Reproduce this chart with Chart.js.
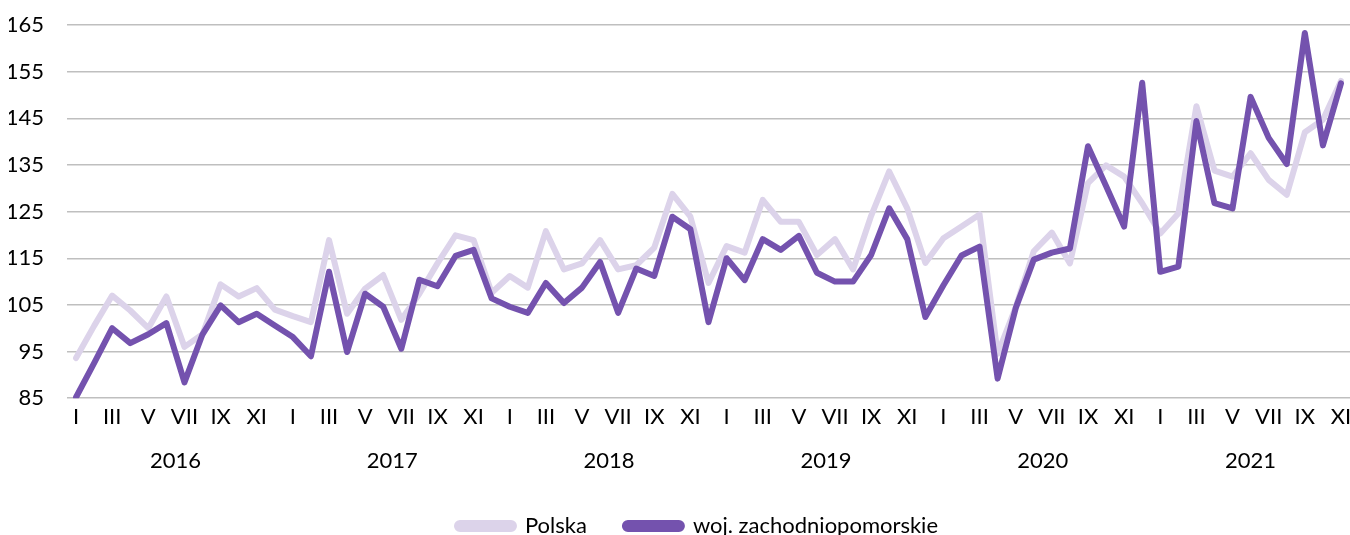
<!DOCTYPE html>
<html lang="pl">
<head>
<meta charset="utf-8">
<script src="https://cdn.jsdelivr.net/npm/chart.js@4/dist/chart.umd.min.js"></script>
<style>
  html, body { margin: 0; padding: 0; background: #fff; overflow: hidden; }
  #wrap { width: 1350px; height: 547px; position: relative; }
</style>
</head>
<body>
<div id="wrap"><canvas id="chart"></canvas></div>
<script>
// Month labels (roman numerals) and years
const months = ['I', 'II', 'III', 'IV', 'V', 'VI', 'VII', 'VIII', 'IX', 'X', 'XI', 'XII'];
const years = ['2016', '2017', '2018', '2019', '2020', '2021'];
// The series run from I 2016 to XI 2021
const monthCount = 71;

const yTicks = [85, 95, 105, 115, 125, 135, 145, 155, 165];

const polska = [
  93.6, 100.5, 107, 103.8, 100, 106.8, 96, 98.7, 109.4, 106.8, 108.6, 104,
  102.6, 101.3, 118.9, 103.1, 108.5, 111.4, 101.8, 107.4, 113.9, 119.9, 118.9, 107.6,
  111.2, 108.7, 120.8, 112.6, 113.9, 118.9, 112.6, 113.5, 117.3, 128.8, 123.9, 109.7,
  117.6, 116.2, 127.5, 122.8, 122.8, 115.7, 119.1, 112.6, 124.1, 133.6, 125.7, 114,
  119.3, 121.8, 124.4, 94.5, 104.5, 116.5, 120.5, 113.9, 131.1, 134.9, 132.5, 126.8,
  120.3, 124.6, 147.6, 133.8, 132.5, 137.5, 131.8, 128.6, 142, 144.7, 153
];

const zachodniopomorskie = [
  85.2, 92.5, 100, 96.8, 98.7, 101.1, 88.4, 98.7, 104.9, 101.3, 103.1, 100.6,
  98.1, 94, 112.1, 94.9, 107.4, 104.6, 95.6, 110.4, 109, 115.5, 116.8, 106.4,
  104.6, 103.3, 109.7, 105.4, 108.7, 114.2, 103.3, 112.8, 111.2, 123.9, 121.2, 101.3,
  115, 110.3, 119.1, 116.8, 119.8, 111.9, 110, 110, 115.7, 125.7, 119.1, 102.4,
  109.2, 115.6, 117.5, 89.2, 104.3, 114.7, 116.2, 117.1, 139, 130.5, 121.8, 152.6,
  112.1, 113.2, 144.4, 126.8, 125.7, 149.6, 140.8, 135.2, 163.3, 139.2, 152.5
];

// Build the category labels from the month list
const labels = [];
for (let i = 0; i < monthCount; i++) {
  labels.push(months[i % 12]);
}

// Year label sits in the middle of the months it covers
const yearCenters = years.map((y, k) => {
  const first = k * 12;
  const last = Math.min(first + 11, monthCount - 1);
  return (first + last) / 2;
});

const font = { family: 'Lato', size: 22 };

// Nudge the legend a bit to the right, like in the original
const legendShift = {
  id: 'legendShift',
  afterLayout(chart) {
    if (chart.legend) {
      chart.legend.left += 18;
      chart.legend.right += 18;
    }
  }
};

const config = {
  type: 'line',
  data: {
    labels: labels,
    datasets: [
      {
        label: 'Polska',
        data: polska,
        borderColor: '#DCD3EA',
        backgroundColor: '#DCD3EA',
        borderWidth: 6,
        pointRadius: 0,
        tension: 0,
        borderJoinStyle: 'round',
        borderCapStyle: 'round',
        xAxisID: 'x',
        yAxisID: 'y',
        order: 1
      },
      {
        label: 'woj. zachodniopomorskie',
        data: zachodniopomorskie,
        borderColor: '#7452AE',
        backgroundColor: '#7452AE',
        borderWidth: 6,
        pointRadius: 0,
        tension: 0,
        borderJoinStyle: 'round',
        borderCapStyle: 'round',
        xAxisID: 'x',
        yAxisID: 'y',
        order: 0
      }
    ]
  },
  options: {
    responsive: true,
    maintainAspectRatio: false,
    animation: false,
    layout: { padding: { left: 9, right: 0, top: 0, bottom: 0 } },
    plugins: {
      tooltip: { enabled: false },
      legend: {
        position: 'bottom',
        labels: {
          font: font,
          color: '#000',
          boxWidth: 57,
          boxHeight: 6,
          useBorderRadius: true,
          borderRadius: 3,
          padding: 38,
          sort: (a, b) => a.datasetIndex - b.datasetIndex
        }
      }
    },
    scales: {
      x: {
        type: 'category',
        position: 'bottom',
        offset: true,
        grid: { display: false, drawTicks: false },
        border: { display: false },
        afterFit: function (axis) {
          axis.paddingLeft = 0;
          axis.paddingRight = 0;
        },
        ticks: {
          font: font,
          color: '#000',
          autoSkip: false,
          maxRotation: 0,
          padding: 6,
          callback: function (value, index) {
            return index % 2 === 0 ? labels[index] : '';
          }
        }
      },
      year: {
        type: 'linear',
        position: 'bottom',
        min: -0.5,
        max: monthCount - 0.5,
        grid: { display: false, drawTicks: false },
        border: { display: false },
        afterBuildTicks: function (axis) {
          axis.ticks = yearCenters.map(v => ({ value: v }));
        },
        afterFit: function (axis) {
          // pull the legend a little closer to the year row
          axis.height -= 8;
          axis.paddingLeft = 0;
          axis.paddingRight = 0;
        },
        ticks: {
          font: font,
          color: '#000',
          maxRotation: 0,
          padding: 11,
          callback: function (value) {
            const k = yearCenters.indexOf(value);
            return k >= 0 ? years[k] : '';
          }
        }
      },
      y: {
        min: 85,
        max: 165,
        afterBuildTicks: function (axis) {
          axis.ticks = yTicks.map(v => ({ value: v }));
        },
        afterFit: function (axis) {
          axis.width = 58;
          axis.paddingTop = 25;
          axis.paddingBottom = 0;
        },
        grid: { color: '#BFBFBF', lineWidth: 1.5, drawTicks: false },
        border: { display: false },
        ticks: { font: font, color: '#000', padding: 23 }
      }
    }
  },
  plugins: [legendShift]
};

new Chart(document.getElementById('chart'), config);
</script>
</body>
</html>
